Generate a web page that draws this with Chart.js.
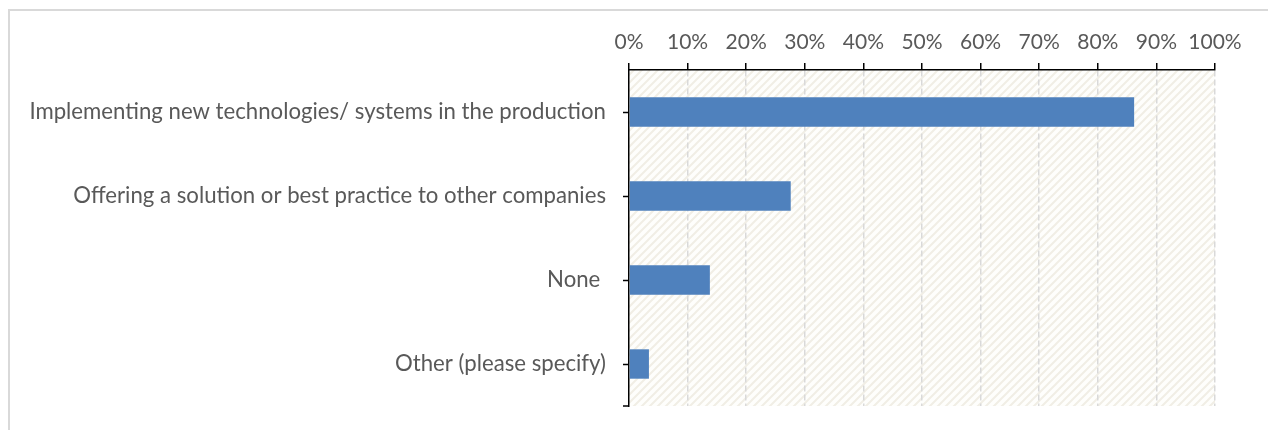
<!DOCTYPE html>
<html>
<head>
<meta charset="utf-8">
<script src="https://cdn.jsdelivr.net/npm/chart.js@4.4.1/dist/chart.umd.min.js"></script>
<style>
    html, body { margin: 0; padding: 0; background: #fff; overflow: hidden; }
    #moldura { position: absolute; left: 8px; top: 9px; width: 1400px; height: 600px;
               border-left: 2px solid #d9d9d9; border-top: 2px solid #d9d9d9; }
    #area { position: absolute; left: 0; top: 0; width: 1268px; height: 430px; }
</style>
</head>
<body>
<div id="moldura"></div>
<div id="area"><canvas id="grafico"></canvas></div>
<script>
var categorias = [
    "Implementing new technologies/ systems in the production",
    "Offering a solution or best practice to other companies",
    "None ",
    "Other (please specify)"
];
var percentuais = [86.2, 27.6, 13.8, 3.4];
var marcasX = [0, 10, 20, 30, 40, 50, 60, 70, 80, 90, 100];

var cinzaTexto = '#595959';

// fundo listrado da area do grafico
function hachura(ctx) {
    var c = document.createElement('canvas');
    c.width = 8; c.height = 8;
    var g = c.getContext('2d');
    g.fillStyle = '#fefefc';
    g.fillRect(0, 0, 8, 8);
    g.strokeStyle = '#f1eee5';
    g.lineWidth = 2;
    g.beginPath();
    g.moveTo(-2, 10); g.lineTo(10, -2);
    g.moveTo(-2, 2); g.lineTo(2, -2);
    g.moveTo(6, 10); g.lineTo(10, 6);
    g.stroke();
    return ctx.createPattern(c, 'repeat');
}

var fundoListrado = {
    id: 'fundoListrado',
    beforeDraw: function (chart) {
        var a = chart.chartArea, ctx = chart.ctx;
        ctx.save();
        ctx.fillStyle = hachura(ctx);
        ctx.fillRect(a.left, a.top, a.right - a.left, a.bottom - a.top);
        ctx.restore();
    },
    afterDraw: function (chart) {
        // tracinho no fim do eixo vertical
        var a = chart.chartArea, ctx = chart.ctx;
        ctx.save();
        ctx.strokeStyle = '#000';
        ctx.lineWidth = 1.5;
        ctx.beginPath();
        ctx.moveTo(a.left - 6, a.bottom);
        ctx.lineTo(a.left, a.bottom);
        ctx.stroke();
        ctx.restore();
    }
};

var ctx = document.querySelector('#grafico').getContext('2d');
var myChart = new Chart(ctx, {
    type: 'bar',
    data: {
        labels: categorias,
        datasets: [{
            data: percentuais,
            backgroundColor: '#4f81bd',
            borderWidth: 0,
            barPercentage: 0.35,
            categoryPercentage: 1
        }]
    },
    plugins: [fundoListrado],
    options: {
        indexAxis: 'y',
        responsive: true,
        maintainAspectRatio: false,
        animation: false,
        layout: { padding: { left: 0, right: 53, top: 0, bottom: 24 } },
        plugins: {
            legend: { display: false },
            tooltip: { enabled: false }
        },
        scales: {
            x: {
                position: 'top',
                min: 0,
                max: 100,
                afterBuildTicks: function (scale) {
                    scale.ticks = marcasX.map(function (v) { return { value: v }; });
                },
                afterFit: function (scale) { scale.height = 70; },
                grid: {
                    color: function (c) { return c.index === 0 ? 'rgba(0,0,0,0)' : '#d9d9d9'; },
                    lineWidth: 1.5,
                    drawTicks: true,
                    tickLength: 7,
                    tickColor: '#000',
                    tickWidth: 1.5
                },
                border: { display: true, color: '#000', width: 1.5, dash: [6, 3] },
                ticks: {
                    color: cinzaTexto,
                    font: { family: 'Lato', size: 21 },
                    padding: 8,
                    maxRotation: 0,
                    autoSkip: false,
                    callback: function (v) { return v + '%'; }
                }
            },
            y: {
                afterFit: function (scale) {
                    scale.width = 629;
                    scale.paddingTop = 0;
                    scale.paddingBottom = 0;
                },
                grid: {
                    offset: false,
                    drawOnChartArea: false,
                    drawTicks: true,
                    tickLength: 6,
                    tickColor: '#000',
                    tickWidth: 1.5
                },
                border: { display: true, color: '#000', width: 1.5 },
                ticks: {
                    color: cinzaTexto,
                    font: { family: 'Lato', size: 22.2 },
                    padding: 17,
                    autoSkip: false
                }
            }
        }
    }
});
</script>
</body>
</html>
